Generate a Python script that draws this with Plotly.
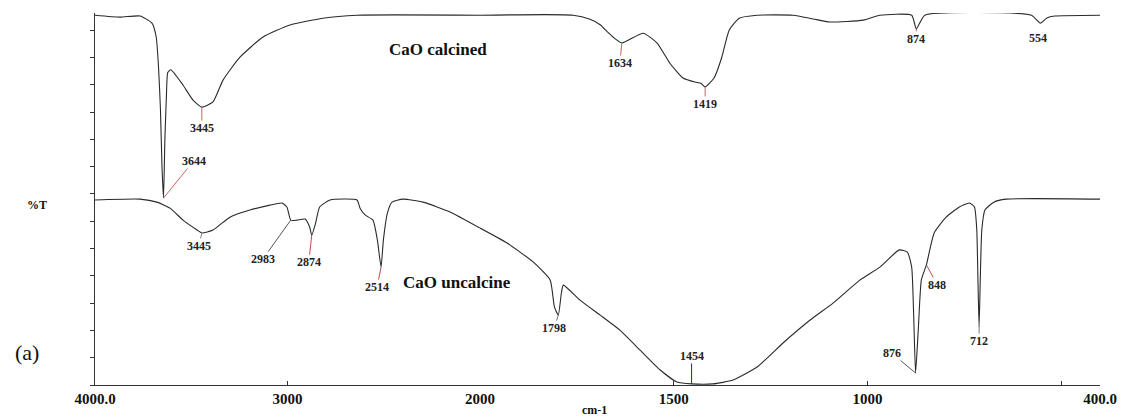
import numpy as np
import plotly.graph_objects as go

# ---------------- data (wavenumber in cm-1, %T in arbitrary offset units) -------------
calc_wn = [4000, 3870, 3766, 3704, 3682, 3670, 3660, 3652, 3644, 3637, 3629, 3622, 3606,
           3543, 3491, 3445, 3387, 3335, 3247, 3127, 2987, 2816, 2639, 2000, 1760, 1716,
           1690, 1672, 1657, 1634, 1579, 1543, 1510, 1476, 1445, 1430, 1419, 1396, 1376,
           1357, 1331, 1285, 1192, 1140, 1097, 1011, 968, 886, 874, 852, 577, 554, 537,
           517, 400]
calc_T = [13.55, 13.48, 13.52, 13.26, 12.75, 11.65, 10.1, 8.0, 6.85, 9.0, 10.6, 11.45, 11.55,
          10.99, 10.44, 10.18, 10.37, 11.17, 12.01, 12.75, 13.19, 13.44, 13.55, 13.55, 13.55, 13.40,
          13.20, 12.95, 12.75, 12.53, 12.89, 12.53, 11.79, 11.25, 11.10, 11.06, 10.92, 11.25, 12.01,
          13.0, 13.44, 13.55, 13.55, 13.41, 13.30, 13.37, 13.55, 13.55, 13.05, 13.55, 13.55, 13.26,
          13.45, 13.52, 13.55]

unc_wn = [4000, 3766, 3678, 3610, 3543, 3470, 3445, 3387, 3299, 3195, 3091, 3029, 3003, 2983,
          2951, 2909, 2885, 2874, 2854, 2833, 2779, 2639, 2623, 2597, 2556, 2533, 2514, 2502,
          2481, 2457, 2400, 2296, 2156, 2000, 1930, 1863, 1819, 1808, 1798, 1790, 1785, 1742,
          1690, 1639, 1587, 1535, 1492, 1454, 1399, 1347, 1285, 1218, 1148, 1089, 1019, 968,
          918, 897, 886, 881, 876, 869, 861, 848, 828, 797, 763, 737, 724, 718, 715, 712,
          709, 705, 697, 674, 642, 400]
unc_T = [6.78, 6.81, 6.70, 6.48, 6.04, 5.68, 5.57, 5.68, 6.15, 6.41, 6.59, 6.67, 6.52, 6.04,
         6.04, 6.08, 5.79, 5.49, 5.93, 6.52, 6.78, 6.78, 6.48, 6.23, 6.04, 5.31, 4.32, 5.31,
         6.30, 6.70, 6.81, 6.70, 6.34, 5.75, 5.20, 4.51, 3.85, 2.86, 2.56, 3.37, 3.66, 3.11,
         2.56, 2.01, 1.28, 0.55, 0.11, 0.04, 0.04, 0.18, 0.66, 1.54, 2.38, 3.00, 3.85, 4.32,
         4.95, 4.87, 4.32, 2.64, 0.44, 2.01, 3.85, 4.40, 5.57, 6.15, 6.52, 6.67, 6.52, 5.68,
         3.85, 2.12, 3.85, 5.68, 6.41, 6.70, 6.81, 6.81]

calc_peaks = [3644, 3445, 1634, 1419, 874, 554]
unc_peaks = [3445, 2983, 2874, 2514, 1798, 1454, 876, 848, 712]

x_break = 2000
x_ticks_hi = [4000, 3000]
x_ticklabels_hi = ["4000.0", "3000"]
x_ticks_lo = [2000, 1500, 1000, 500, 400]
x_ticklabels_lo = ["2000", "1500", "1000", "", "400.0"]

# ---------------- styling for peak labels (offsets in px, line colour) ----------------
calc_style = [(30, -37, "#c86464"), (0, 21, "#c86464"), (-2, 20, "#c86464"),
              (0, 17, "#c86464"), (0, 10, "#c86464"), (-2, 15, "#c86464")]
unc_style = [(-3, 13, "#888888"), (-28, 39, "#555555"), (-3, 27, "#c84646"),
             (-4, 20, "#b05050"), (-4, 13, "#777777"), (0, -28, "#23305a"),
             (-24, -20, "#555555"), (11, 20, "#c05050"), (0, 14, "#777777")]

SERIF = "Liberation Serif, Times New Roman, serif"
LINE = dict(color="#2a2a2a", width=1.1)

fig = go.Figure()


def add_spectrum(wn, T):
    wn = np.asarray(wn, float)
    T = np.asarray(T, float)
    hi = wn >= x_break
    lo = wn <= x_break
    fig.add_trace(go.Scatter(x=wn[hi], y=T[hi], mode="lines", line=LINE,
                             line_shape="spline", line_smoothing=0.5,
                             xaxis="x", yaxis="y", showlegend=False, hoverinfo="skip"))
    fig.add_trace(go.Scatter(x=wn[lo], y=T[lo], mode="lines", line=LINE,
                             line_shape="spline", line_smoothing=0.5,
                             xaxis="x2", yaxis="y", showlegend=False, hoverinfo="skip"))


add_spectrum(calc_wn, calc_T)
add_spectrum(unc_wn, unc_T)


def peak_annotations(peaks, wn, T, styles):
    wn_r = np.asarray(wn, float)[::-1]
    T_r = np.asarray(T, float)[::-1]
    out = []
    for p, (ax, ay, col) in zip(peaks, styles):
        yv = float(np.interp(p, wn_r, T_r))
        out.append(dict(x=p, y=yv, xref="x" if p >= x_break else "x2", yref="y",
                        text="<b>%d</b>" % p, showarrow=True, arrowhead=0,
                        arrowwidth=1, arrowcolor=col, ax=ax, ay=ay,
                        font=dict(family=SERIF, size=12, color="#222222"),
                        borderpad=0))
    return out


annos = peak_annotations(calc_peaks, calc_wn, calc_T, calc_style)
annos += peak_annotations(unc_peaks, unc_wn, unc_T, unc_style)

annos += [
    dict(x=2218, y=12.31, xref="x", yref="y", text="<b>CaO calcined</b>", showarrow=False,
         font=dict(family=SERIF, size=17, color="#111111")),
    dict(x=2119, y=3.74, xref="x", yref="y", text="<b>CaO uncalcine</b>", showarrow=False,
         font=dict(family=SERIF, size=17, color="#111111")),
    dict(x=-0.068, y=0.088, xref="paper", yref="paper", text="(a)", showarrow=False,
         xanchor="center", yanchor="middle",
         font=dict(family=SERIF, size=22, color="#111111")),
    dict(x=-0.058, y=0.485, xref="paper", yref="paper", text="<b>%T</b>", showarrow=False,
         xanchor="center", yanchor="middle",
         font=dict(family=SERIF, size=12, color="#111111")),
    dict(x=0.497, y=-0.068, xref="paper", yref="paper", text="<b>cm-1</b>", showarrow=False,
         xanchor="center", yanchor="middle",
         font=dict(family=SERIF, size=12, color="#111111")),
]

tickfont = dict(family=SERIF, size=15, color="#111111", weight="bold")
xcommon = dict(showline=True, linecolor="#333333", linewidth=1, ticks="inside", ticklen=4,
               tickcolor="#333333", showgrid=False, zeroline=False, anchor="y",
               tickfont=tickfont, tickmode="array")

# the page body has an 8px default margin, so the figure is sized/offset to compensate
fig.update_layout(
    width=1119, height=412,
    margin=dict(l=87, r=27, t=5, b=35),
    paper_bgcolor="white", plot_bgcolor="white",
    xaxis=dict(domain=[0, 385 / 1005], range=[4000, x_break], tickvals=x_ticks_hi,
               ticktext=x_ticklabels_hi, **xcommon),
    xaxis2=dict(domain=[385 / 1005, 1], range=[x_break, 400], tickvals=x_ticks_lo,
                ticktext=x_ticklabels_lo, **xcommon),
    yaxis=dict(range=[0, 13.63], tick0=0, dtick=1, showticklabels=False, ticks="outside",
               ticklen=4, tickcolor="#333333", showline=True, linecolor="#333333",
               linewidth=1, showgrid=False, zeroline=False),
    annotations=annos,
)

fig.write_html("out.html")
